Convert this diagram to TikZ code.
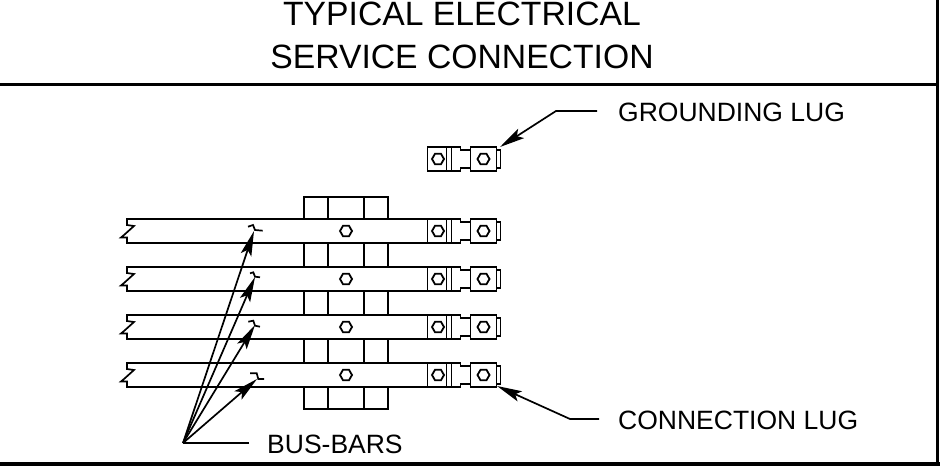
\documentclass[tikz,border=0pt]{standalone}
\usepackage{fontspec}
\setmainfont{Liberation Sans}
\usetikzlibrary{arrows.meta,shapes.geometric}

\begin{document}
\begin{tikzpicture}[x=1pt,y=-1pt]

\tikzset{
  HexStyle/.style = { draw, regular polygon, regular polygon sides=6, minimum size=12pt,
                      inner sep=0pt, line width=1.8pt },
  PartStyle/.style = { line width=1.7pt },
  FrameStyle/.style = { line width=3.4pt },
  LeaderStyle/.style = { line width=1.7pt, -{Stealth[length=25pt,width=11pt,inset=5pt]} },
  TitleStyle/.style = { font=\fontsize{33.7}{43}\selectfont, align=center },
  LabelStyle/.style = { font=\fontsize{26.5}{32}\selectfont, inner sep=0pt, anchor=west },
  lugpart/.pic = {
    \draw[PartStyle] (0,0) rectangle (19,24);
    \draw[PartStyle] (19,0) -- (33,0) -- (33,3) -- (43,3) -- (43,0) -- (69,0) -- (69,24) -- (43,24)
       -- (43,21) -- (33,21) -- (33,24) -- (19,24);
    \draw[PartStyle] (24,0) -- (24,24);
    \draw[PartStyle] (43,0) -- (43,24);
    \draw[PartStyle] (69,3) -- (73,3) -- (73,21) -- (69,21);
    \node[HexStyle] (-a) at (10.5,12) {};
    \node[HexStyle] (-b) at (56,12) {};
  } }

  \useasboundingbox (0,0) rectangle (940,466);

  % frame
  \draw[FrameStyle] (0,84.5) -- (937.5,84.5);
  \draw[FrameStyle] (937.5,0) -- (937.5,466);
  \draw[line width=4pt] (0,464) -- (940,464);

  \node[TitleStyle] (title) at (462,35) {TYPICAL ELECTRICAL\\SERVICE CONNECTION};

  % clamp blocks
  \foreach \y/\h in {197/219, 243/267, 291/315, 339/363, 387/409} {
    \draw[PartStyle] (304,\y) rectangle (388,\h);
    \draw[PartStyle] (328,\y) -- (328,\h);
    \draw[PartStyle] (364,\y) -- (364,\h);
  }

  % bars
  \foreach \n/\y in {1/219, 2/267, 3/315, 4/363} {
    \draw[PartStyle] (427,\y) -- (127,\y) -- (127,\y+6) -- (134,\y+7) -- (124,\y+16) -- (121,\y+18.5)
       -- (127,\y+18.5) -- (127,\y+24) -- (427,\y+24);
    \node[HexStyle] (hole\n) at (346,\y+12) {};
    \pic (lug\n) at (427.5,\y) {lugpart};
  }
  \pic (lugtop) at (427.5,147) {lugpart};

  % bar marks
  \draw[PartStyle] (248,226.7) -- (253,225) -- (255,230) -- (262.7,230.7);
  \draw[PartStyle] (250,273.3) -- (253.3,272.3) -- (255,276.7) -- (260,277.3);
  \draw[PartStyle] (248.3,321.7) -- (253.3,320.7) -- (255,325.7) -- (260,326.7);
  \draw[PartStyle] (250,373.3) -- (256.7,373.3) -- (258.3,379) -- (264,379);

  \node[LabelStyle] (ground) at (618,112) {GROUNDING LUG};
  \node[LabelStyle] (conn) at (618,420) {CONNECTION LUG};
  \node[LabelStyle] (bus) at (267,444) {BUS-BARS};

  \coordinate (gbend) at (556,111);
  \coordinate (cbend) at (570,419);
  \coordinate (bbend) at (183,443);
  \coordinate (m1) at (254,231);
  \coordinate (m2) at (255,277);
  \coordinate (m3) at (255,325);
  \coordinate (m4) at (257,379);
  \coordinate (gtip) at (500,147);
  \coordinate (ctip) at (497,386);

  \draw[LeaderStyle] (597,111) -- (gbend) -- (gtip);
  \draw[LeaderStyle] (599,419) -- (cbend) -- (ctip);
  \draw[PartStyle] (249,443) -- (bbend);
  \foreach \n in {1,2,3,4} {
    \draw[LeaderStyle] (bbend) -- (m\n);
  }

\end{tikzpicture}
\end{document}
